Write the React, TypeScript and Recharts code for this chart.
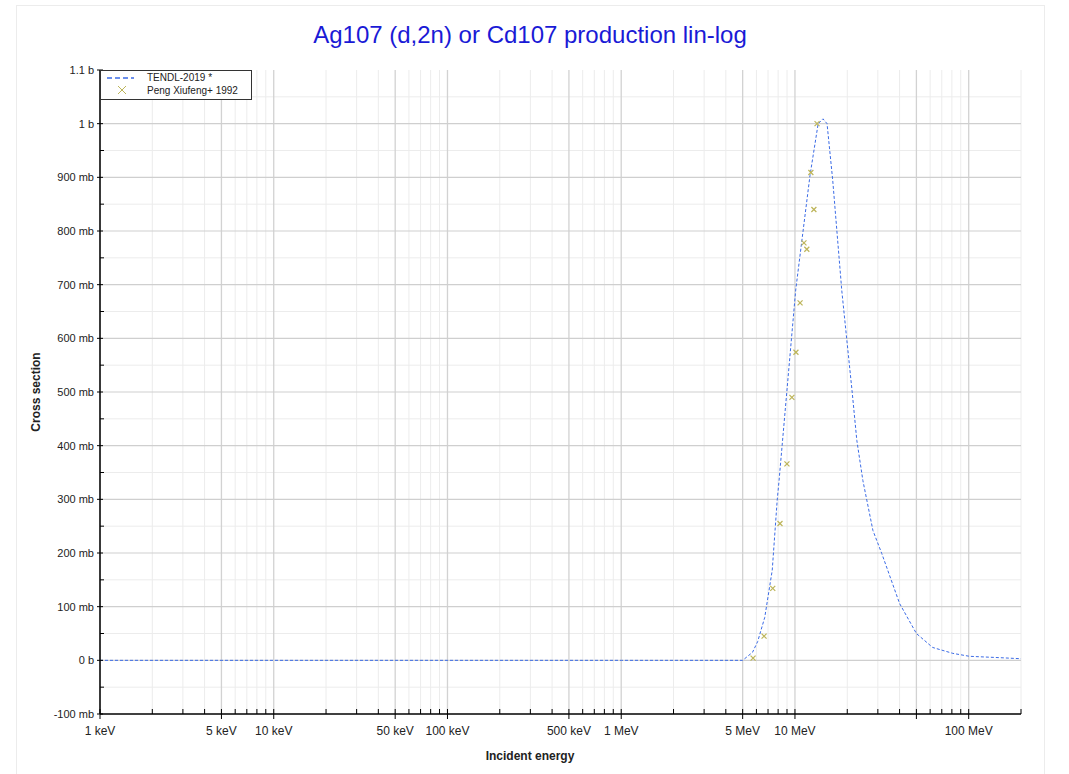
import React from 'react';
import { ComposedChart, Line, Scatter, XAxis, YAxis, ReferenceLine } from 'recharts';

// TENDL-2019 evaluation (energy in MeV, cross section in mb)
const tendlEnergy = [0.001, 1, 5.0, 5.7, 6.1, 6.7, 7.4, 7.9, 8.1, 10.1, 12.2, 13.6, 14.5, 15.3, 16.5, 18.6, 19.9, 21.3, 22.7, 24.6, 28.1, 31.6, 40, 50, 62, 81, 101, 150, 200];
const tendlXs = [0, 0, 0, 15, 35, 80, 168, 298, 335, 690, 903, 1000, 1009, 1000, 894, 689, 596, 503, 410, 335, 242, 199, 106, 50, 24, 13, 7.5, 5, 3];

// Peng Xiufeng+ 1992 measurements
const expEnergy = [5.74, 6.64, 7.45, 8.2, 8.99, 9.6, 10.13, 10.7, 11.27, 11.7, 12.35, 12.85, 13.4];
const expXs = [4, 45, 134, 255, 366, 490, 574, 666, 778, 766, 909, 840, 1000];

const xMajor = [0.001, 0.005, 0.01, 0.05, 0.1, 0.5, 1, 5, 10, 50, 100];
const xLabels = ['1 keV', '5 keV', '10 keV', '50 keV', '100 keV', '500 keV', '1 MeV', '5 MeV', '10 MeV', '', '100 MeV'];
const yMajor = [-100, 0, 100, 200, 300, 400, 500, 600, 700, 800, 900, 1000, 1100];
const yLabels = ['-100 mb', '0 b', '100 mb', '200 mb', '300 mb', '400 mb', '500 mb', '600 mb', '700 mb', '800 mb', '900 mb', '1 b', '1.1 b'];

const tendl = tendlEnergy.map((e, i) => ({ e, xs: tendlXs[i] }));
const exp = expEnergy.map((e, i) => ({ e, xs: expXs[i] }));

const X_MIN = 0.001;
const X_MAX = 200;

const xAll: number[] = [];
for (let d = 0.001; d <= 100.0001; d *= 10) {
  for (let m = 1; m <= 9; m++) {
    const v = +(d * m).toPrecision(6);
    if (v <= X_MAX + 1e-9) xAll.push(v);
  }
}
const xMinor = xAll.filter((v) => !xMajor.some((m) => Math.abs(m - v) / m < 1e-6));
const yAll: number[] = [];
for (let v = -100; v <= 1100; v += 50) yAll.push(v);
const yMinor = yAll.filter((v) => v % 100 !== 0);

const FONT = '"Liberation Sans", Arial, sans-serif';
const LINE_COLOR = '#3b6be6';
const EXP_COLOR = '#bdb55a';

const majorIndex = (v: number) => xMajor.findIndex((m) => Math.abs(m - v) / m < 1e-6);

const BottomTick = (props: any) => {
  const { x, y, payload } = props;
  const i = majorIndex(payload.value);
  return (
    <g>
      <line x1={x} x2={x} y1={i >= 0 ? y + 5 : y} y2={y - 5} stroke="#000" />
      {i >= 0 && xLabels[i] ? (
        <text x={x} y={y + 21} textAnchor="middle" fontSize={12} fill="#222" fontFamily={FONT}>
          {xLabels[i]}
        </text>
      ) : null}
    </g>
  );
};

const TopTick = (props: any) => {
  const { x, y } = props;
  return <line x1={x} x2={x} y1={y} y2={y - 5} stroke="#000" />;
};

const LeftTick = (props: any) => {
  const { x, y, payload } = props;
  const i = yMajor.indexOf(payload.value);
  return (
    <g>
      <line x1={i >= 0 ? x - 3 : x} x2={x + (i >= 0 ? 3 : 4)} y1={y} y2={y} stroke="#000" />
      {i >= 0 ? (
        <text x={x - 6} y={y + 4} textAnchor="end" fontSize={11} fill="#222" fontFamily={FONT}>
          {yLabels[i]}
        </text>
      ) : null}
    </g>
  );
};

const RightTick = (props: any) => {
  const { x, y } = props;
  return <line x1={x} x2={x - 4} y1={y} y2={y} stroke="#000" />;
};

const Cross = (props: any) => {
  const { cx, cy } = props;
  const s = 2.5;
  return (
    <g>
      <line x1={cx - s} y1={cy - s} x2={cx + s} y2={cy + s} stroke={EXP_COLOR} strokeWidth={1.2} />
      <line x1={cx - s} y1={cy + s} x2={cx + s} y2={cy - s} stroke={EXP_COLOR} strokeWidth={1.2} />
    </g>
  );
};

const axisLine = { stroke: '#000', strokeWidth: 1.5 };

export default function App() {
  return (
    <div style={{ position: 'absolute', left: 0, top: 0, width: 1069, height: 774, background: '#fff', overflow: 'hidden' }}>
      <div style={{ position: 'absolute', left: 16, top: 5, width: 1027, height: 800, border: '1px solid #ececec' }} />
      <div
        style={{
          position: 'absolute', left: 16, width: 1028, top: 21, textAlign: 'center',
          fontFamily: FONT, fontSize: 24, color: '#1a1ad6',
        }}
      >
        Ag107 (d,2n) or Cd107 production lin-log
      </div>
      <div style={{ position: 'absolute', left: 0, top: 0 }}>
        <ComposedChart width={1069} height={774} margin={{ top: 70, right: 48, bottom: 0, left: 0 }}>
          {xMinor.map((v) => (
            <ReferenceLine key={'xm' + v} x={v} stroke="#ececec" strokeWidth={1} />
          ))}
          {yMinor.map((v) => (
            <ReferenceLine key={'ym' + v} y={v} stroke="#ececec" strokeWidth={1} />
          ))}
          {xMajor.map((v) => (
            <ReferenceLine key={'xM' + v} x={v} stroke="#d2d2d2" strokeWidth={1.3} />
          ))}
          {yMajor.slice(1, -1).map((v) => (
            <ReferenceLine key={'yM' + v} y={v} stroke="#cfcfcf" strokeWidth={1.2} />
          ))}
          <XAxis
            dataKey="e" type="number" scale="log" domain={[X_MIN, X_MAX]} allowDataOverflow
            ticks={xAll} interval={0} tickSize={0} tickMargin={0} height={60}
            tick={<BottomTick />} axisLine={axisLine} tickLine={false}
          />
          <XAxis
            xAxisId="top" orientation="top" dataKey="e" type="number" scale="log" domain={[X_MIN, X_MAX]}
            allowDataOverflow ticks={xAll} interval={0} tickSize={0} tickMargin={0} height={0}
            tick={<TopTick />} axisLine={axisLine} tickLine={false}
          />
          <YAxis
            type="number" domain={[-100, 1100]} allowDataOverflow ticks={yAll} interval={0}
            tickSize={0} tickMargin={0} width={100} tick={<LeftTick />} axisLine={axisLine} tickLine={false}
          />
          <YAxis
            yAxisId="right" orientation="right" type="number" domain={[-100, 1100]} allowDataOverflow
            ticks={yAll} interval={0} tickSize={0} tickMargin={0} width={0}
            tick={<RightTick />} axisLine={axisLine} tickLine={false}
          />
          <Line
            data={tendl} dataKey="xs" type="linear" stroke={LINE_COLOR} strokeWidth={1}
            strokeDasharray="3 2" dot={false} activeDot={false} isAnimationActive={false}
          />
          <Scatter data={exp} dataKey="xs" shape={<Cross />} isAnimationActive={false} />
        </ComposedChart>
      </div>
      <div
        style={{
          position: 'absolute', left: 100, top: 70, width: 150, height: 28,
          border: '1px solid #333', background: '#fff', fontFamily: FONT, fontSize: 10, color: '#222',
        }}
      >
        <svg width={40} height={28} style={{ position: 'absolute', left: 0, top: 0 }}>
          <line x1={6} x2={33} y1={7} y2={7} stroke={LINE_COLOR} strokeWidth={1.5} strokeDasharray="5 3" />
          <line x1={17} y1={15} x2={25} y2={23} stroke={EXP_COLOR} strokeWidth={1} />
          <line x1={17} y1={23} x2={25} y2={15} stroke={EXP_COLOR} strokeWidth={1} />
        </svg>
        <div style={{ position: 'absolute', left: 46, top: 0, lineHeight: '13px', whiteSpace: 'nowrap' }}>TENDL-2019 *</div>
        <div style={{ position: 'absolute', left: 46, top: 13, lineHeight: '13px', whiteSpace: 'nowrap' }}>Peng Xiufeng+ 1992</div>
      </div>
      <div
        style={{
          position: 'absolute', left: 16, width: 1028, top: 749, textAlign: 'center',
          fontFamily: FONT, fontSize: 12, fontWeight: 'bold', color: '#222',
        }}
      >
        Incident energy
      </div>
      <div
        style={{
          position: 'absolute', left: 36, top: 392, transform: 'translate(-50%, -50%) rotate(-90deg)',
          fontFamily: FONT, fontSize: 12, fontWeight: 'bold', color: '#222', whiteSpace: 'nowrap',
        }}
      >
        Cross section
      </div>
    </div>
  );
}
